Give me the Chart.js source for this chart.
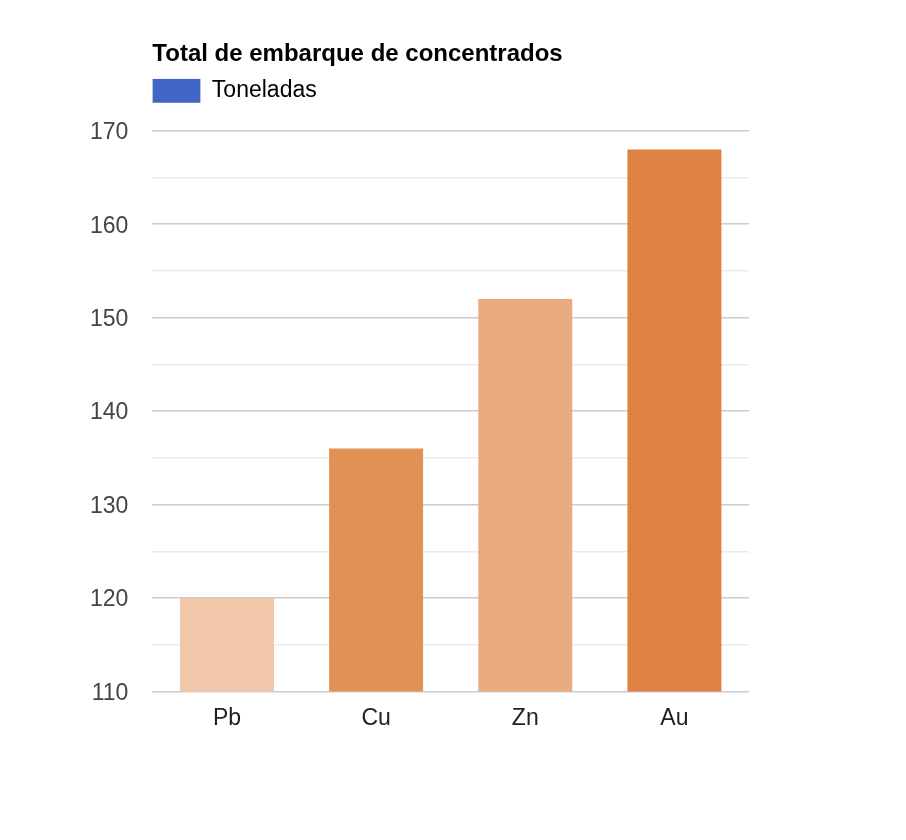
<!DOCTYPE html>
<html><head><meta charset="utf-8">
<script src="https://cdn.jsdelivr.net/npm/chart.js@4"></script>
<style>html,body{margin:0;padding:0;background:#fff}canvas{display:block}</style>
</head><body>
<canvas id="c" width="906" height="840"></canvas>
<script>
const categories = ['Pb', 'Cu', 'Zn', 'Au'];
const toneladas = [120, 136, 152, 168];
const barColors = ['#f0c8a9', '#e29156', '#e9ab7f', '#e08144'];
const seriesLabel = 'Toneladas';
const titleText = 'Total de embarque de concentrados';
const yMin = 110, yMax = 170, yStep = 5;

const FONT = "Arial, 'Liberation Sans', sans-serif";
new Chart(document.getElementById('c'), {
  type: 'bar',
  data: {
    labels: categories,
    datasets: [{
      label: seriesLabel,
      data: toneladas,
      backgroundColor: barColors,
      borderWidth: 0,
      categoryPercentage: 1,
      barPercentage: 0.63
    }]
  },
  options: {
    responsive: false,
    devicePixelRatio: 1,
    animation: false,
    layout: { padding: { left: 66, right: 157, top: 40, bottom: 103 } },
    plugins: {
      title: {
        display: true, text: titleText, align: 'start', fullSize: false,
        color: '#000', font: { family: FONT, size: 24, weight: 'bold' },
        padding: { top: 0, bottom: 10 }
      },
      legend: {
        display: true, align: 'start', fullSize: false,
        labels: {
          color: '#222', font: { family: FONT, size: 23 },
          boxWidth: 48, boxHeight: 24, padding: 0,
          generateLabels: () => [{ text: seriesLabel, fillStyle: '#4266c6', strokeStyle: '#4266c6', lineWidth: 0 }]
        },
        onClick: null
      },
      tooltip: { enabled: false }
    },
    scales: {
      x: {
        grid: { display: false },
        border: { display: false },
        ticks: { color: '#222', font: { family: FONT, size: 23 }, padding: 5 }
      },
      y: {
        min: yMin, max: yMax,
        border: { display: false },
        grid: {
          drawTicks: false,
          lineWidth: 1.5,
          color: c => (c.tick && c.tick.value % 10 === 0) ? '#cccccc' : '#ebebeb'
        },
        ticks: {
          stepSize: yStep, padding: 24, color: '#444', labelOffset: 2,
          font: { family: FONT, size: 23 },
          callback: v => (v % 10 === 0 ? v : '')
        }
      }
    }
  },
  plugins: [{
    id: 'legendGap',
    beforeLayout(chart) {
      const lg = chart.legend;
      if (lg && !lg._gapPatched) {
        const fit = lg.fit.bind(lg);
        lg.fit = function () { fit(); this.height += 18; };
        lg._gapPatched = true;
      }
    }
  }]
});
</script>
</body></html>
